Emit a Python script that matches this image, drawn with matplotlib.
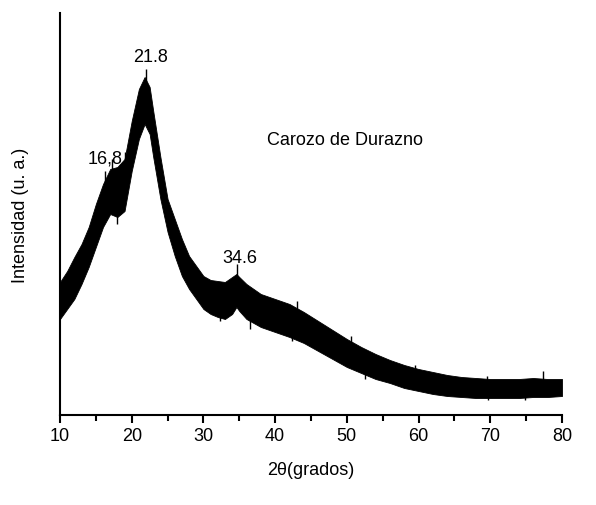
import matplotlib
matplotlib.use("Agg")
import matplotlib.pyplot as plt
import numpy as np

# =========================
# Data (arbitrary intensity units)
# =========================
two_theta = [10, 11, 12, 13, 14, 15, 16, 17, 18, 19, 20, 21, 21.8, 22.5, 23,
             24, 25, 26, 27, 28, 29, 30, 31, 32, 33, 34, 34.6, 35, 36, 38, 40,
             42, 44, 46, 48, 50, 52, 54, 56, 58, 60, 62, 64, 66, 68, 70, 72,
             74, 76, 78, 80]

# upper edge of the noisy band
upper = [133, 144, 158, 171, 188, 211, 231, 246, 248, 256, 294, 326, 338,
         328, 304, 258, 216, 196, 176, 159, 149, 139, 135, 134, 133, 138,
         141, 138, 131, 121, 116, 111, 103, 94, 85, 76, 68, 61, 55, 50, 46,
         43, 40, 38, 37, 36, 36, 36, 37, 36, 36]

# lower edge of the noisy band
lower = [96, 106, 116, 131, 148, 168, 188, 201, 198, 204, 244, 276, 291,
         281, 258, 216, 183, 159, 139, 126, 116, 106, 101, 98, 96, 101, 108,
         104, 96, 88, 83, 78, 72, 64, 56, 48, 42, 36, 32, 27, 24, 21, 19, 18,
         17, 17, 17, 17, 18, 18, 19]

# single noise spikes that stick out of the band
spike_up_x = [16.3, 17.2, 19.0, 22.0, 34.7, 38.2, 43.0, 50.6, 59.5, 69.5,
              77.4]
spike_up_y = [244, 256, 263, 346, 151, 119, 114, 79, 50, 39, 44]
spike_dn_x = [18.0, 32.3, 36.5, 42.4, 52.5, 69.7, 74.8]
spike_dn_y = [191, 94, 86, 74, 36, 15, 15]

peak_labels = ["16,8", "21.8", "34.6"]
peak_label_x = [16.3, 22.6, 35.1]
peak_label_y = [253, 354, 153]

sample_name = "Carozo de Durazno"

# =========================
# Plot
# =========================
plt.rcParams["font.family"] = ["Liberation Sans", "DejaVu Sans"]

fig = plt.figure(figsize=(5.96, 5.06), dpi=100)
ax = fig.add_axes([60 / 596, 90 / 506, 502 / 596, 402 / 506])

ax.fill_between(two_theta, lower, upper, color="black", linewidth=0.6,
                edgecolor="black")

# spikes start inside the band (middle of the band at that angle)
mid = (np.array(upper) + np.array(lower)) / 2
ax.vlines(spike_up_x, np.interp(spike_up_x, two_theta, mid), spike_up_y,
          color="black", linewidth=1)
ax.vlines(spike_dn_x, spike_dn_y, np.interp(spike_dn_x, two_theta, mid),
          color="black", linewidth=1)

for txt, x, y in zip(peak_labels, peak_label_x, peak_label_y):
    ax.text(x, y, txt, fontsize=13, ha="center", va="baseline")

ax.text(49.7, 271, sample_name, fontsize=13, ha="center", va="baseline")

ax.set_xlim(10, 80)
ax.set_ylim(0, 402)
ax.set_xticks(range(10, 81, 10))
ax.set_xticks(range(15, 80, 10), minor=True)
ax.set_yticks([])

ax.set_xlabel("2θ(grados)", fontsize=13, labelpad=12)
ax.set_ylabel("Intensidad (u. a.)", fontsize=13, labelpad=22)

ax.spines["top"].set_visible(False)
ax.spines["right"].set_visible(False)
ax.spines["left"].set_linewidth(1.5)
ax.spines["bottom"].set_linewidth(1.5)

ax.tick_params(axis="x", which="major", direction="out", length=6,
               width=1.5, labelsize=13, pad=3)
ax.tick_params(axis="x", which="minor", direction="out", length=4,
               width=1.5)
ax.tick_params(axis="y", length=0)

fig.savefig("out.png", dpi=100)
